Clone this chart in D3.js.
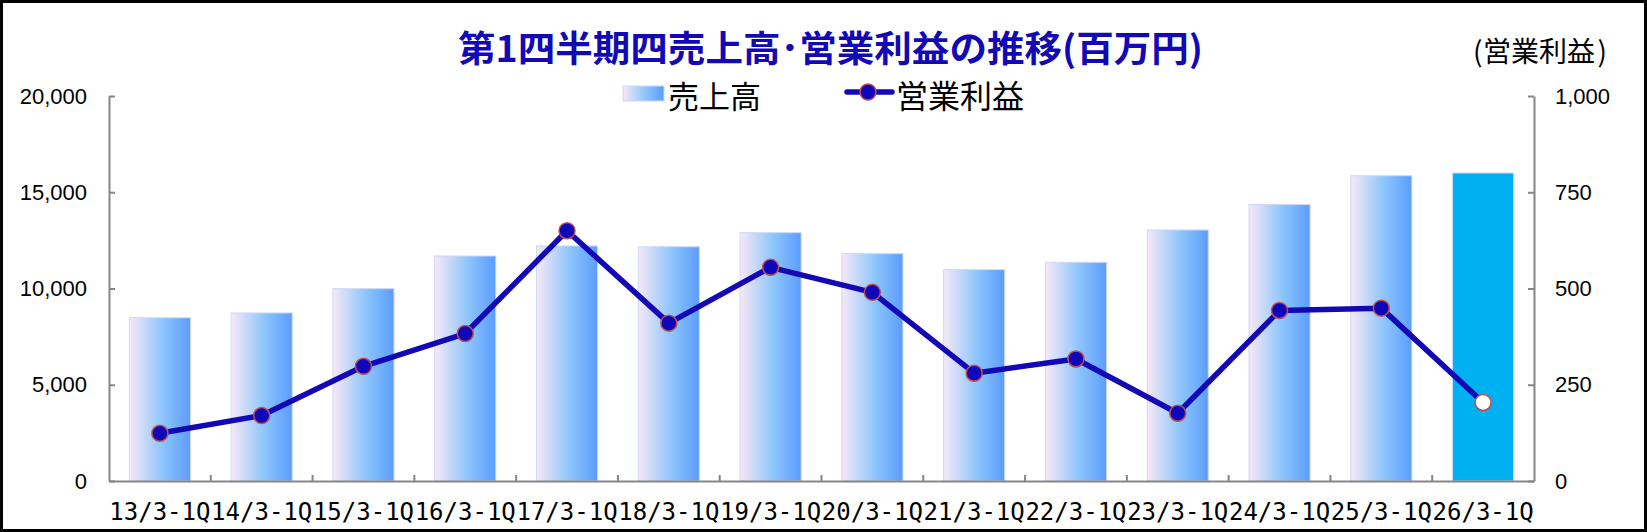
<!DOCTYPE html>
<html>
<head>
<meta charset="utf-8">
<script src="https://cdn.jsdelivr.net/npm/d3@7/dist/d3.min.js"></script>
<style>
  html, body { margin: 0; padding: 0; background: #fff; }
  #chart { width: 1647px; height: 532px; }
  .axis path, .axis line { stroke: #868686; stroke-width: 2px; }
  .axis text { font-family: "Liberation Sans", "Noto Sans CJK JP", sans-serif; font-size: 22px; fill: #000; }
  .xaxis text { font-family: "DejaVu Sans Mono", monospace; font-size: 24px; }
  .unit text { font-family: "Noto Sans CJK JP", sans-serif; font-size: 28px; fill: #000; }
</style>
</head>
<body>
<div id="chart"></div>
<script>
// data
const categories = ["13/3-1Q", "14/3-1Q", "15/3-1Q", "16/3-1Q", "17/3-1Q", "18/3-1Q", "19/3-1Q",
  "20/3-1Q", "21/3-1Q", "22/3-1Q", "23/3-1Q", "24/3-1Q", "25/3-1Q", "26/3-1Q"];
const sales = [8480, 8730, 9990, 11690, 12210, 12170, 12900, 11810, 10980, 11360, 13040, 14360, 15860, 16000];
const operatingProfit = [124, 170, 298, 383, 650, 410, 555, 490, 280, 317, 176, 443, 449, 204];
const leftTicks = [0, 5000, 10000, 15000, 20000];
const rightTicks = [0, 250, 500, 750, 1000];

const width = 1647, height = 532;
const margin = { top: 96, right: 113, bottom: 51, left: 109 };
const plotW = width - margin.left - margin.right;
const plotH = height - margin.top - margin.bottom;

const svg = d3.select("#chart").append("svg")
  .attr("width", width)
  .attr("height", height);

// outer frame
svg.append("rect")
  .attr("x", 1.5).attr("y", 1.5)
  .attr("width", width - 3).attr("height", height - 3)
  .attr("fill", "#fff")
  .attr("stroke", "#000")
  .attr("stroke-width", 3);

const defs = svg.append("defs");
const grad = defs.append("linearGradient")
  .attr("id", "barGrad")
  .attr("x1", "0%").attr("x2", "100%").attr("y1", "0%").attr("y2", "0%");
grad.append("stop").attr("offset", "0%").attr("stop-color", "#f7e8f6");
grad.append("stop").attr("offset", "55%").attr("stop-color", "#8cc5fb");
grad.append("stop").attr("offset", "100%").attr("stop-color", "#5c9cfd");

const g = svg.append("g").attr("transform", `translate(${margin.left},${margin.top})`);

// scales
const x = d3.scaleBand().domain(categories).range([0, plotW]).paddingInner(0.4).paddingOuter(0.2);
const yL = d3.scaleLinear().domain([0, 20000]).range([plotH, 0]);
const yR = d3.scaleLinear().domain([0, 1000]).range([plotH, 0]);

// bars
const last = categories.length - 1;
g.selectAll("rect.bar")
  .data(sales)
  .enter().append("rect")
  .attr("class", "bar")
  .attr("x", (d, i) => x(categories[i]))
  .attr("y", d => yL(d))
  .attr("width", x.bandwidth())
  .attr("height", d => plotH - yL(d))
  .attr("fill", (d, i) => i === last ? "#00b0f0" : "url(#barGrad)")
  .attr("stroke", "#cdd8f6")
  .attr("stroke-width", 1);

// axes
const fmt = d3.format(",");
g.append("g").attr("class", "axis")
  .call(d3.axisLeft(yL).tickValues(leftTicks).tickFormat(fmt).tickSizeInner(-6).tickSizeOuter(0).tickPadding(22));

g.append("g").attr("class", "axis")
  .attr("transform", `translate(${plotW},0)`)
  .call(d3.axisRight(yR).tickValues(rightTicks).tickFormat(fmt).tickSizeInner(-6).tickSizeOuter(0).tickPadding(21));

const xAxis = g.append("g").attr("class", "axis xaxis")
  .attr("transform", `translate(0,${plotH})`)
  .call(d3.axisBottom(x).tickSize(0).tickPadding(22));
xAxis.selectAll(".tick line").remove();

// category separators on the x axis (ticks pointing inwards)
g.append("g").attr("class", "axis")
  .selectAll("line")
  .data(d3.range(1, categories.length))
  .enter().append("line")
  .attr("x1", i => i * x.step())
  .attr("x2", i => i * x.step())
  .attr("y1", plotH)
  .attr("y2", plotH - 6);

// operating profit line
const cx = (d, i) => x(categories[i]) + x.bandwidth() / 2;
const line = d3.line().x(cx).y(d => yR(d));
g.append("path")
  .datum(operatingProfit)
  .attr("d", line)
  .attr("fill", "none")
  .attr("stroke", "#1208b6")
  .attr("stroke-width", 5.5)
  .attr("stroke-linejoin", "round");

g.selectAll("circle.pt")
  .data(operatingProfit)
  .enter().append("circle")
  .attr("class", "pt")
  .attr("cx", cx)
  .attr("cy", d => yR(d))
  .attr("r", 8)
  .attr("fill", (d, i) => i === last ? "#fff" : "#0e06b8")
  .attr("stroke", "#c0504d")
  .attr("stroke-width", 1.5);

// title
svg.append("text")
  .attr("x", 458).attr("y", 46)
  .attr("dominant-baseline", "central")
  .attr("textLength", 745)
  .attr("lengthAdjust", "spacingAndGlyphs")
  .style("font-family", "'Noto Sans CJK JP', sans-serif")
  .style("font-weight", "bold")
  .style("font-size", "36px")
  .style("fill", "#1208b6")
  .text("第1四半期四売上高･営業利益の推移(百万円)");

// right axis unit label, parens placed apart like the original
const unit = svg.append("g").attr("class", "unit");
unit.append("text").attr("x", 1473).attr("y", 50)
  .attr("dominant-baseline", "central").text("(");
unit.append("text").attr("x", 1539).attr("y", 50)
  .attr("text-anchor", "middle").attr("dominant-baseline", "central").text("営業利益");
unit.append("text").attr("x", 1607).attr("y", 50)
  .attr("text-anchor", "end").attr("dominant-baseline", "central").text(")");

// legend
const legend = svg.append("g");
legend.append("rect")
  .attr("x", 623).attr("y", 86).attr("width", 41).attr("height", 15)
  .attr("fill", "url(#barGrad)")
  .attr("stroke", "#cdd8f6");
legend.append("text")
  .attr("x", 668).attr("y", 94)
  .attr("dominant-baseline", "central")
  .style("font-family", "'Noto Sans CJK JP', sans-serif")
  .style("font-size", "31px")
  .text("売上高");

legend.append("line")
  .attr("x1", 847).attr("x2", 892).attr("y1", 92).attr("y2", 92)
  .attr("stroke", "#1208b6").attr("stroke-width", 5.5).attr("stroke-linecap", "round");
legend.append("circle")
  .attr("cx", 868).attr("cy", 92).attr("r", 8)
  .attr("fill", "#0e06b8").attr("stroke", "#c0504d").attr("stroke-width", 1.5);
legend.append("text")
  .attr("x", 896).attr("y", 94)
  .attr("dominant-baseline", "central")
  .style("font-family", "'Noto Sans CJK JP', sans-serif")
  .style("font-size", "32px")
  .text("営業利益");
</script>
</body>
</html>
